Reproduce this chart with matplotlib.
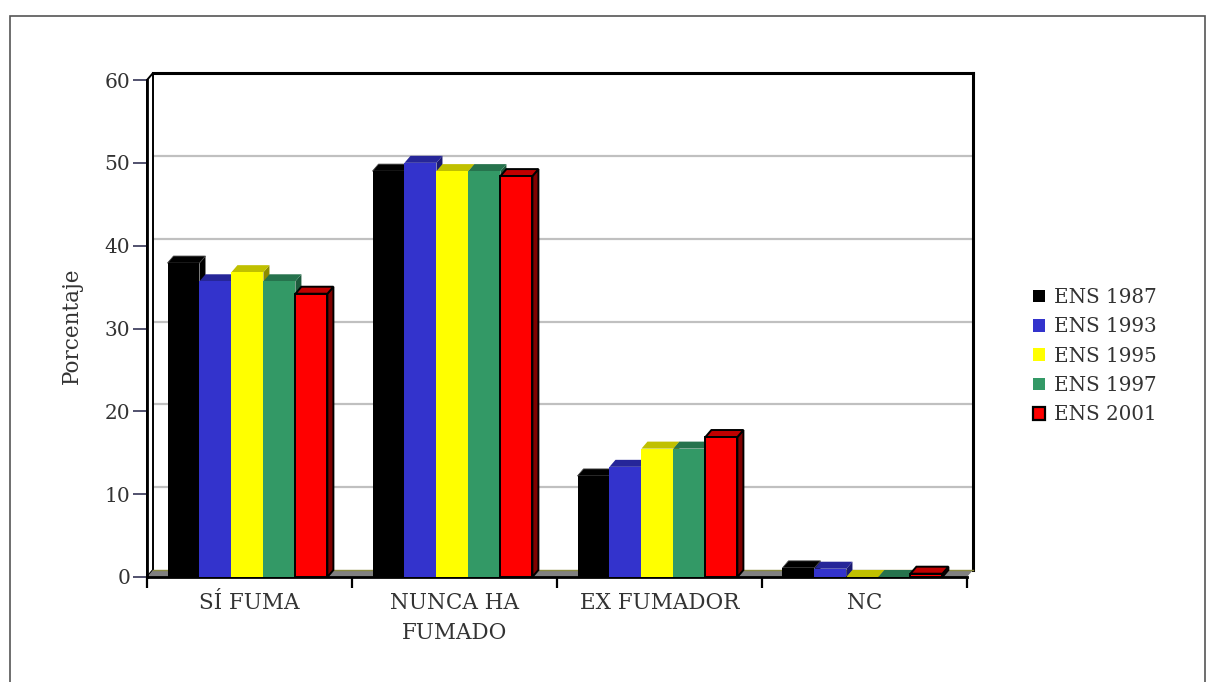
import matplotlib
matplotlib.use("Agg")
import matplotlib.pyplot as plt
from matplotlib.patches import Polygon, Rectangle, Patch

# Tabaquismo por encuesta (ENS), porcentaje
categories = ["SÍ FUMA", "NUNCA HA\nFUMADO", "EX FUMADOR", "NC"]
series = ["ENS 1987", "ENS 1993", "ENS 1995", "ENS 1997", "ENS 2001"]
ens_1987 = [37.9, 49.0, 12.2, 1.1]
ens_1993 = [35.7, 50.0, 13.3, 1.0]
ens_1995 = [36.8, 49.0, 15.5, 0.0]
ens_1997 = [35.7, 49.0, 15.5, 0.0]
ens_2001 = [34.2, 48.4, 16.9, 0.4]
y_ticks = [0, 10, 20, 30, 40, 50, 60]

values = [ens_1987, ens_1993, ens_1995, ens_1997, ens_2001]
front_colors = ["#000000", "#3333cc", "#ffff00", "#339966", "#ff0000"]
top_colors = ["#000000", "#262699", "#c0c000", "#26734d", "#c00000"]
side_colors = ["#000000", "#1a1a73", "#8c8c00", "#1d5a3c", "#800000"]
outlined = [False, False, False, False, True]

plt.rcParams["font.family"] = ["DejaVu Serif"]
TXT = "#333333"

W, H = 1207, 682
fig = plt.figure(figsize=(W / 100, H / 100), dpi=100)
ax = fig.add_axes([147 / W, (H - 577) / H, 820 / W, 497 / H])
ax.set_xlim(0, 4)
ax.set_ylim(0, 60)

# depth of the pseudo-3D look, converted to data units
px_x = 820 / 4
px_y = 497 / 60
dx = 6 / px_x
dy = 7 / px_y

# back wall grid and frame
for v in y_ticks[1:-1]:
    ax.plot([dx, 4 + dx], [v + dy, v + dy], color="#c0c0c0", lw=1.6,
            clip_on=False, zorder=1, solid_capstyle="butt")
ax.plot([dx, 4 + dx], [60 + dy, 60 + dy], color="black", lw=2.2,
        clip_on=False, zorder=1.2, solid_capstyle="projecting")
ax.plot([4 + dx, 4 + dx], [dy, 60 + dy], color="black", lw=2.2,
        clip_on=False, zorder=1.2, solid_capstyle="projecting")
# left wall
ax.add_patch(Polygon([(0, 0), (0, 60), (dx, 60 + dy), (dx, dy)],
                     closed=True, facecolor="white", edgecolor="black",
                     lw=1.4, clip_on=False, zorder=1.3))
# floor
ax.add_patch(Polygon([(0, 0), (4, 0), (4 + dx, dy), (dx, dy)], closed=True,
                     facecolor="#808080", edgecolor="none",
                     clip_on=False, zorder=1.4))
ax.plot([dx, 4 + dx], [dy, dy], color="#8a8a40", lw=1.0, clip_on=False,
        zorder=1.45)

bar_w = 0.156
group_off = 0.1
for i, vals in enumerate(values):
    lefts = [c + group_off + i * bar_w for c in range(len(categories))]
    ec = "black" if outlined[i] else "none"
    lw = 1.4 if outlined[i] else 0
    z = 3 + i * 0.3
    for x0, v in zip(lefts, vals):
        x1 = x0 + bar_w
        ax.add_patch(Polygon([(x1, 0), (x1 + dx, dy), (x1 + dx, v + dy), (x1, v)],
                             closed=True, facecolor=side_colors[i],
                             edgecolor=ec, lw=lw, clip_on=False, zorder=z,
                             joinstyle="miter"))
        ax.add_patch(Polygon([(x0, v), (x1, v), (x1 + dx, v + dy), (x0 + dx, v + dy)],
                             closed=True, facecolor=top_colors[i],
                             edgecolor=ec if outlined[i] else ("#444444" if i == 0 else "none"),
                             lw=lw if outlined[i] else (0.6 if i == 0 else 0),
                             clip_on=False, zorder=z, joinstyle="miter"))
    ax.bar(lefts, vals, width=bar_w, align="edge", color=front_colors[i],
           edgecolor=ec, linewidth=lw, zorder=z + 0.1, clip_on=False)

for s in ["top", "right"]:
    ax.spines[s].set_visible(False)
for s in ["left", "bottom"]:
    ax.spines[s].set_linewidth(2.0)
    ax.spines[s].set_color("black")
    ax.spines[s].set_zorder(2.5)
ax.patch.set_alpha(0)

ax.set_yticks(y_ticks)
ax.tick_params(axis="y", length=10, width=1.2, color="#333355", direction="out",
               pad=2, labelsize=14.5, labelcolor=TXT)
ax.set_xticks([0, 1, 2, 3, 4])
ax.set_xticklabels([])
ax.tick_params(axis="x", which="major", length=8, width=1.6, color="black",
               direction="out")
ax.set_xticks([c + 0.5 for c in range(len(categories))], minor=True)
ax.set_xticklabels(categories, minor=True, fontsize=15.5, color=TXT,
                   linespacing=1.45)
ax.tick_params(axis="x", which="minor", length=0, pad=11)

fig.text(72 / W, 1 - 326 / H, "Porcentaje", rotation=90, ha="center",
         va="center", fontsize=15.5, color=TXT)

handles = [Patch(facecolor=c, edgecolor=("black" if o else c), lw=(1.6 if o else 0))
           for c, o in zip(front_colors, outlined)]
fig.legend(handles, series, loc="upper left",
           bbox_to_anchor=(1033 / W, 1 - 288 / H), frameon=False, fontsize=14.3,
           handlelength=0.6, handleheight=0.6, handletextpad=0.45,
           labelspacing=0.52, borderaxespad=0, borderpad=0, labelcolor=TXT)

# outer frame
fig.add_artist(Rectangle((10 / W, -0.05), (1205 - 10) / W, 1.05 - 16 / H,
                         transform=fig.transFigure, fill=False,
                         edgecolor="#555555", lw=1.2))

fig.savefig("out.png", dpi=100)
